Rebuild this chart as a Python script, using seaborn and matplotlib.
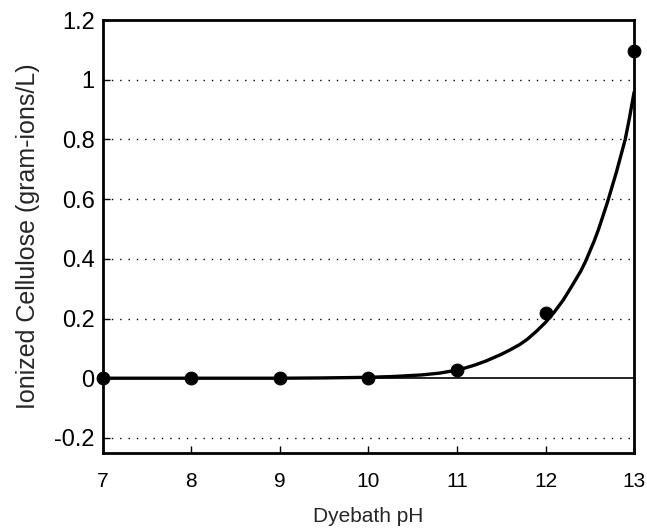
import seaborn as sns
import matplotlib.pyplot as plt
import pandas as pd

# measured points
ph_points = [7, 8, 9, 10, 11, 12, 13]
ionized_points = [0.0, 0.0, 0.0, 0.0, 0.027, 0.22, 1.095]

# fitted curve
ph_curve = [7, 8, 9, 9.5, 10, 10.3, 10.6, 10.8, 11, 11.1, 11.2, 11.33, 11.5,
            11.6, 11.71, 11.8, 11.9, 12.0, 12.1, 12.2, 12.3, 12.4, 12.45, 12.5,
            12.55, 12.6, 12.65, 12.7, 12.75, 12.8, 12.85, 12.9, 12.95, 13]
ionized_curve = [0.0, 0.0, 0.0, 0.001, 0.003, 0.006, 0.011, 0.017, 0.027,
                 0.035, 0.044, 0.058, 0.08, 0.095, 0.113, 0.132, 0.158, 0.187,
                 0.222, 0.262, 0.31, 0.36, 0.39, 0.425, 0.46, 0.50, 0.545,
                 0.59, 0.64, 0.69, 0.745, 0.80, 0.875, 0.958]

y_ticks = [-0.2, 0, 0.2, 0.4, 0.6, 0.8, 1, 1.2]
y_labels = ["-0.2", "0", "0.2", "0.4", "0.6", "0.8", "1", "1.2"]
x_ticks = [7, 8, 9, 10, 11, 12, 13]

sns.set_style("ticks")
plt.rcParams["font.family"] = ["Liberation Sans", "DejaVu Sans"]

fig = plt.figure(figsize=(6.47, 5.29), dpi=100)
ax = fig.add_axes([0.159, 0.144, 0.821, 0.818])

# dotted reference lines, solid zero line
for y in y_ticks:
    if y == 0:
        ax.axhline(y, color="black", lw=1.2, zorder=1)
    elif y < 1.2:
        ax.axhline(y, color="black", lw=1.0, ls=(0, (1, 5)), zorder=1)

curve = pd.DataFrame({"pH": ph_curve, "ionized": ionized_curve})
pts = pd.DataFrame({"pH": ph_points, "ionized": ionized_points})

sns.lineplot(data=curve, x="pH", y="ionized", color="black", lw=2.4, ax=ax,
             zorder=3)
sns.scatterplot(data=pts, x="pH", y="ionized", color="black", s=85,
                edgecolor="black", ax=ax, zorder=4, clip_on=False)

ax.set_xlim(7, 13)
ax.set_ylim(-0.25, 1.2)
ax.set_xticks(x_ticks)
ax.set_yticks(y_ticks)
ax.set_yticklabels(y_labels)
ax.tick_params(direction="in", length=5, width=1, colors="black")
ax.tick_params(axis="y", labelsize=17, pad=6)
ax.tick_params(axis="x", labelsize=15, pad=14)
for s in ax.spines.values():
    s.set_linewidth(2)
    s.set_color("black")

ax.set_xlabel("Dyebath pH", fontsize=15, labelpad=11)
ax.set_ylabel("Ionized Cellulose (gram-ions/L)", fontsize=18, labelpad=10)

fig.savefig("out.png", dpi=100)
